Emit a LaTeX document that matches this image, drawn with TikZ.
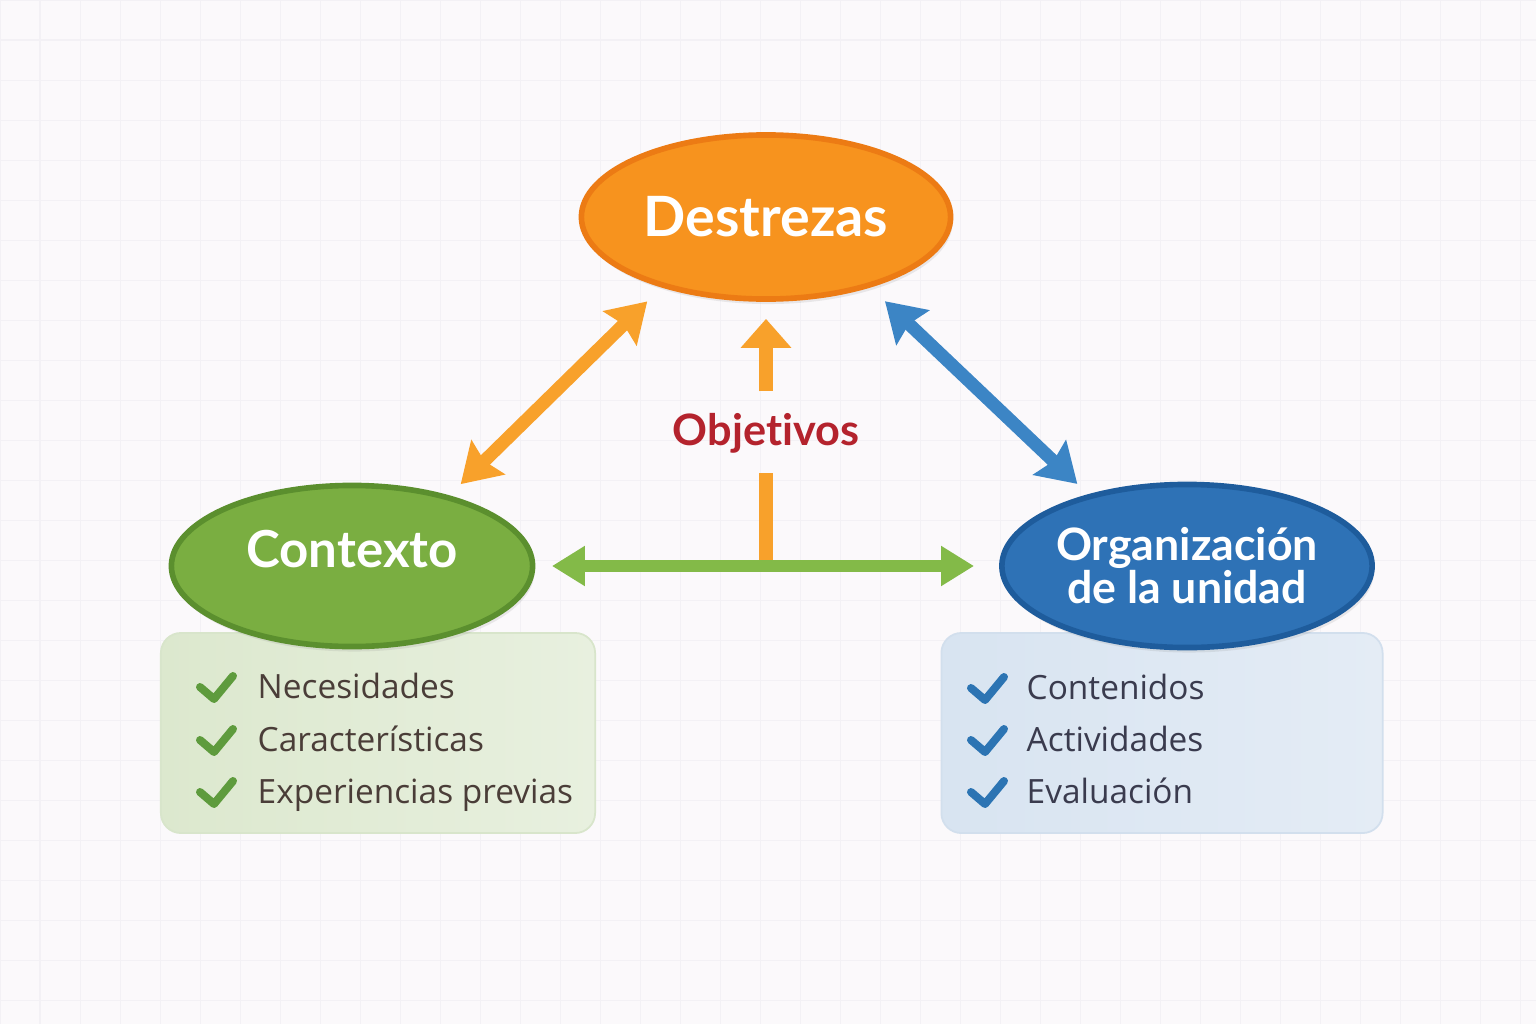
\documentclass[tikz,border=0pt]{standalone}
\usepackage{fontspec}
\setmainfont{Open Sans}
\newfontfamily\headfont{Lato}[Ligatures=NoCommon]
\usetikzlibrary{arrows.meta,shapes.geometric,shadows}
\definecolor{Paper}{HTML}{FBF9FB}
\definecolor{GridLine}{HTML}{F3F1F5}
\definecolor{DestOrange}{HTML}{F7931E}
\definecolor{DestEdge}{HTML}{EC7B14}
\definecolor{CtxGreen}{HTML}{7AAE41}
\definecolor{CtxEdge}{HTML}{5B8F2E}
\definecolor{OrgBlue}{HTML}{2E72B6}
\definecolor{OrgEdge}{HTML}{1E5C9C}
\definecolor{ArrOrange}{HTML}{F8A12B}
\definecolor{ArrBlue}{HTML}{3C85C5}
\definecolor{ArrGreen}{HTML}{83BA48}
\definecolor{ObjRed}{HTML}{B4232D}
\definecolor{GreenBoxL}{HTML}{DCE8CE}
\definecolor{GreenBoxR}{HTML}{E8F0DF}
\definecolor{GreenBoxEdge}{HTML}{D8E5CB}
\definecolor{BlueBoxL}{HTML}{D8E4F1}
\definecolor{BlueBoxR}{HTML}{E4ECF5}
\definecolor{BlueBoxEdge}{HTML}{D2DFED}
\definecolor{ItemBrown}{HTML}{4A3D38}
\definecolor{ItemNavy}{HTML}{3A3B4E}
\definecolor{TickGreen}{HTML}{5E9B3D}
\definecolor{TickBlue}{HTML}{2C74B3}

\tikzset{
  checkmark/.pic={
    \draw[line width=0.08cm, line cap=round, line join=round, pic actions]
      (-17,0) -- (-3,12) -- (16,-11);
  }
}

\begin{document}
\begin{tikzpicture}[
  x=0.01cm, y=-0.01cm,
  every node/.style={inner sep=0pt},
  hub/.style={ellipse, line width=1.6pt, align=center, text=white,
    drop shadow={opacity=0.15, shadow xshift=0.02cm, shadow yshift=-0.05cm}},
  listbox/.style={rounded corners=0.2cm, minimum height=2cm, line width=0.5pt},
  item/.style={anchor=west, text height=0.23cm, text depth=0pt,
    font=\fontsize{9.5}{11}\selectfont},
  diag/.style={line width=0.13cm,
    {Stealth[length=0.38cm, width=0.47cm, inset=0.05cm]}-{Stealth[length=0.38cm, width=0.47cm, inset=0.05cm]}},
  flow/.style={line width=0.12cm,
    {Triangle[length=0.33cm, width=0.38cm]}-{Triangle[length=0.33cm, width=0.38cm]}},
  goal/.style={line width=0.14cm, -{Triangle[length=0.29cm, width=0.49cm]}},
  bar/.style={line width=0.14cm, draw=ArrOrange}
]
\useasboundingbox (0,0) rectangle (1536,1024);
\fill[Paper] (0,0) rectangle (1536,1024);
\draw[GridLine, line width=0.3pt, step=0.4cm] (0,1024) grid (1536,0);

% list boxes behind the ellipses
\node[listbox, left color=GreenBoxL, right color=GreenBoxR, draw=GreenBoxEdge,
  minimum width=4.34cm] (ctxbox) at (378,733) {};
\node[listbox, left color=BlueBoxL, right color=BlueBoxR, draw=BlueBoxEdge,
  minimum width=4.41cm] (orgbox) at (1162,733) {};

% main ellipses
\node[hub, fill=DestOrange, draw=DestEdge, minimum width=3.69cm, minimum height=1.64cm,
  font=\headfont\bfseries\fontsize{15.8}{18}\selectfont] (dest) at (766,217) {Destrezas};
\node[hub, fill=CtxGreen, draw=CtxEdge, minimum width=3.61cm, minimum height=1.61cm,
  font=\headfont\bfseries\fontsize{14.5}{17}\selectfont] (ctx) at (352,566) {\raisebox{0.34cm}{Contexto}};
\node[hub, fill=OrgBlue, draw=OrgEdge, minimum width=3.66cm, minimum height=1.63cm,
  font=\headfont\bfseries\fontsize{12.7}{12.2}\selectfont] (org) at (1187,566) {Organización\\de la unidad};

\node[font=\headfont\bfseries\fontsize{12.3}{14}\selectfont, text=ObjRed,
  text height=0.3cm, text depth=0pt] (obj) at (766,430) {Objetivos};
\coordinate (hub) at (766,566);

% connectors
\draw[diag, draw=ArrOrange, shorten <=0.2cm, shorten >=0.16cm] (dest.214) -- (ctx.36);
\draw[diag, draw=ArrBlue, shorten <=0.2cm, shorten >=0.15cm] (dest.326) -- (org.144);
\draw[bar, shorten >=0.27cm] (hub) -- (obj.south);
\draw[goal, draw=ArrOrange, shorten <=0.23cm, shorten >=0.17cm] (obj.north) -- (dest.south);
\draw[flow, draw=ArrGreen, shorten <=0.165cm, shorten >=0.25cm] (ctx.east) -- (org.west);

% items
\pic[draw=TickGreen] at (217,687) {checkmark};
\pic[draw=TickGreen] at (217,740) {checkmark};
\pic[draw=TickGreen] at (217,792) {checkmark};
\node[item, text=ItemBrown] (need) at (257,687) {Necesidades};
\node[item, text=ItemBrown] (feat) at (257,740) {Características};
\node[item, text=ItemBrown] (prev) at (257,792) {Experiencias previas};
\pic[draw=TickBlue] at (988,688) {checkmark};
\pic[draw=TickBlue] at (988,740) {checkmark};
\pic[draw=TickBlue] at (988,792) {checkmark};
\node[item, text=ItemNavy] (cont) at (1026,688) {Contenidos};
\node[item, text=ItemNavy] (acti) at (1026,740) {Actividades};
\node[item, text=ItemNavy] (eval) at (1026,792) {Evaluación};
\end{tikzpicture}
\end{document}
